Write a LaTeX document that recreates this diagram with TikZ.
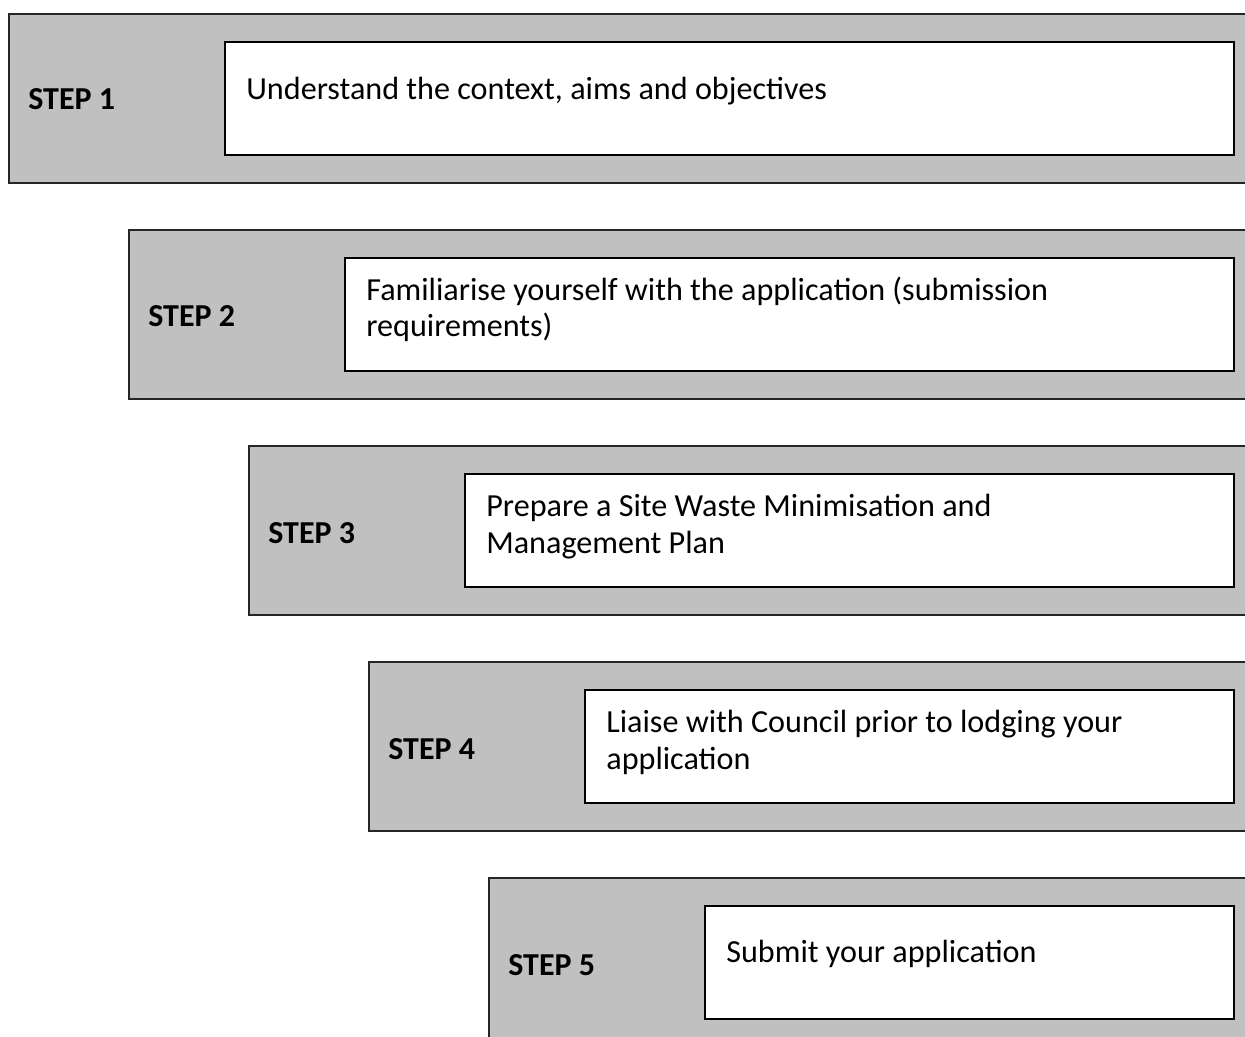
\documentclass[tikz,border=0pt]{standalone}
\usepackage{fontspec}
\setmainfont{Carlito}
\definecolor{bandgray}{HTML}{C0C0C0}
\newcommand{\pxu}{0.02cm}

\tikzset{
	stepband/.style = {draw=black!85, line width=1.1pt, fill=bandgray,
		rectangle, anchor=north west, inner sep=0pt, minimum height=169*\pxu},
	taskbox/.style = {draw=black, line width=1.3pt, fill=white,
		rectangle, anchor=north west, inner sep=0pt, minimum height=113*\pxu},
	steplabel/.style = {anchor=base west, inner sep=0pt,
		font=\fontsize{18.2}{21}\selectfont\bfseries},
	% anchored at the baseline of the last line
	tasktext/.style = {anchor=base west, inner sep=0pt, align=left,
		font=\fontsize{18.3}{21}\selectfont}
}

\begin{document}
\begin{tikzpicture}[x=\pxu, y=-\pxu]
	\clip (0,0) rectangle (1245,1037);
	% step 1
		\node[stepband, minimum width=1290*\pxu] (band1) at (8,13) {};
		\node[taskbox, minimum width=1009*\pxu] (task1) at (224,41) {};
		\node[steplabel] (lab1) at (28,110) {STEP 1};
		\node[tasktext] (txt1) at (246,100) {Understand the context, aims and objectives};
	% step 2
		\node[stepband, minimum width=1170*\pxu] (band2) at (128,229) {};
		\node[taskbox, minimum width=889*\pxu] (task2) at (344,257) {};
		\node[steplabel] (lab2) at (148,327) {STEP 2};
		\node[tasktext] (txt2) at (366,337) {Familiarise yourself with the application (submission\\requirements)};
	% step 3
		\node[stepband, minimum width=1050*\pxu] (band3) at (248,445) {};
		\node[taskbox, minimum width=769*\pxu] (task3) at (464,473) {};
		\node[steplabel] (lab3) at (268,543) {STEP 3};
		\node[tasktext] (txt3) at (486,553) {Prepare a Site Waste Minimisation and\\Management Plan};
	% step 4
		\node[stepband, minimum width=930*\pxu] (band4) at (368,661) {};
		\node[taskbox, minimum width=649*\pxu] (task4) at (584,689) {};
		\node[steplabel] (lab4) at (388,759) {STEP 4};
		\node[tasktext] (txt4) at (606,769) {Liaise with Council prior to lodging your\\application};
	% step 5
		\node[stepband, minimum width=810*\pxu] (band5) at (488,877) {};
		\node[taskbox, minimum width=529*\pxu] (task5) at (704,905) {};
		\node[steplabel] (lab5) at (508,975) {STEP 5};
		\node[tasktext] (txt5) at (726,962) {Submit your application};
\end{tikzpicture}
\end{document}
